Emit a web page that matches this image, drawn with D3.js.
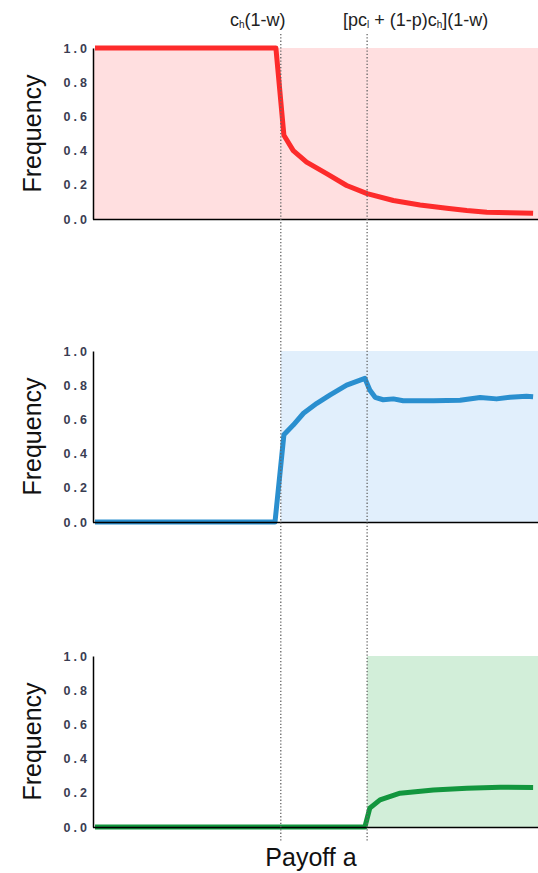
<!DOCTYPE html>
<html>
<head>
<meta charset="utf-8">
<script src="https://cdn.jsdelivr.net/npm/d3@7"></script>
<style>
  body { margin: 0; background: #fff; }
  text { font-family: "Liberation Sans", Arial, sans-serif; }
</style>
</head>
<body>
<div id="chart"></div>
<script>
// payoff a, on an arbitrary 0-100 axis
var thresholds = [42.2, 61.6];
var yTicks = [0, 0.2, 0.4, 0.6, 0.8, 1.0];

var redX = [0.45, 41.1, 42.9, 45.0, 48.0, 52.5, 57.0, 61.6, 67.5, 73.5, 79.5, 84.0, 88.5, 93.7, 98.9];
var redY = [1.0, 1.0, 0.49, 0.40, 0.333, 0.265, 0.196, 0.148, 0.108, 0.082, 0.063, 0.05, 0.04, 0.036, 0.033];

var blueX = [0.45, 40.9, 42.9, 45.0, 47.3, 50.3, 53.3, 57.0, 61.1, 62.2, 63.4, 65.2, 67.5, 69.7, 73.5, 76.5, 82.5, 87.0, 90.7, 93.7, 97.4, 98.9];
var blueY = [0.0, 0.0, 0.51, 0.567, 0.636, 0.694, 0.743, 0.80, 0.84, 0.772, 0.729, 0.715, 0.72, 0.709, 0.709, 0.709, 0.712, 0.728, 0.72, 0.73, 0.736, 0.733];

var greenX = [0.45, 61.1, 62.2, 64.5, 69.0, 76.5, 84.0, 91.5, 98.9];
var greenY = [0.0, 0.0, 0.11, 0.159, 0.198, 0.217, 0.227, 0.233, 0.231];

var panels = [
  {top: 48, xs: redX, ys: redY, line: "#fd2b2b", fill: "#ffdfe0", shadeFrom: 0},
  {top: 351, xs: blueX, ys: blueY, line: "#2a8fcf", fill: "#e1effc", shadeFrom: thresholds[0]},
  {top: 656, xs: greenX, ys: greenY, line: "#12963e", fill: "#d2eed9", shadeFrom: thresholds[1]}
];

var W = 538, H = 873, panelH = 171;

var svg = d3.select("#chart").append("svg")
    .attr("width", W)
    .attr("height", H);

var x = d3.scaleLinear()
    .domain([0, 100])
    .range([93, 538]);

panels.forEach(function (p) {
    var y = d3.scaleLinear()
        .domain([0, 1])
        .range([p.top + panelH, p.top]);

    var g = svg.append("g");

    // shaded region
    g.append("rect")
        .attr("x", x(p.shadeFrom))
        .attr("y", y(1))
        .attr("width", x(100) - x(p.shadeFrom))
        .attr("height", y(0) - y(1))
        .attr("fill", p.fill);

    var pts = p.xs.map(function (v, i) { return [v, p.ys[i]]; });
    var line = d3.line()
        .x(function (d) { return x(d[0]); })
        .y(function (d) { return y(d[1]); });

    g.append("path")
        .datum(pts)
        .attr("d", line)
        .attr("fill", "none")
        .attr("stroke", p.line)
        .attr("stroke-width", 5)
        .attr("stroke-linejoin", "round");

    // y axis
    var ya = g.append("g")
        .attr("transform", "translate(" + x(0) + ",0)")
        .call(d3.axisLeft(y).tickValues(yTicks).tickFormat(d3.format(".1f")).tickSize(0).tickPadding(3));
    ya.select(".domain").attr("stroke", "#000").attr("stroke-width", 1.5);
    ya.selectAll("text")
        .attr("font-size", 12.5)
        .attr("font-weight", "bold")
        .attr("letter-spacing", 3)
        .attr("fill", "#3a3d52")
        .attr("font-family", "Liberation Sans, Arial, sans-serif");

    // x axis line
    g.append("line")
        .attr("x1", x(0)).attr("x2", x(100))
        .attr("y1", y(0) + 0.5).attr("y2", y(0) + 0.5)
        .attr("stroke", "#000")
        .attr("stroke-width", 1.5);

    g.append("text")
        .attr("transform", "translate(41," + ((y(0) + y(1)) / 2) + ") rotate(-90)")
        .attr("text-anchor", "middle")
        .attr("font-size", 25)
        .attr("fill", "#111")
        .text("Frequency");
});

// dotted threshold lines
svg.selectAll(".thr")
    .data(thresholds)
    .enter().append("line")
    .attr("class", "thr")
    .attr("x1", function (d) { return x(d); })
    .attr("x2", function (d) { return x(d); })
    .attr("y1", 34)
    .attr("y2", 842)
    .attr("stroke", "#666")
    .attr("stroke-width", 1.3)
    .attr("stroke-dasharray", "1.3,2");

// threshold labels
var lab1 = svg.append("text")
    .attr("x", 230).attr("y", 26)
    .attr("font-size", 18)
    .attr("fill", "#222");
lab1.append("tspan").text("c");
lab1.append("tspan").attr("font-size", 10).attr("dy", 2).text("h");
lab1.append("tspan").attr("dy", -2).text("(1-w)");

var lab2 = svg.append("text")
    .attr("x", 343).attr("y", 26)
    .attr("font-size", 18)
    .attr("fill", "#222");
lab2.append("tspan").text("[pc");
lab2.append("tspan").attr("font-size", 10).attr("dy", 2).text("l");
lab2.append("tspan").attr("dy", -2).text(" + (1-p)c");
lab2.append("tspan").attr("font-size", 10).attr("dy", 2).text("h");
lab2.append("tspan").attr("dy", -2).text("](1-w)");

svg.append("text")
    .attr("x", 311).attr("y", 866)
    .attr("text-anchor", "middle")
    .attr("font-size", 25)
    .attr("fill", "#111")
    .text("Payoff a");
</script>
</body>
</html>
